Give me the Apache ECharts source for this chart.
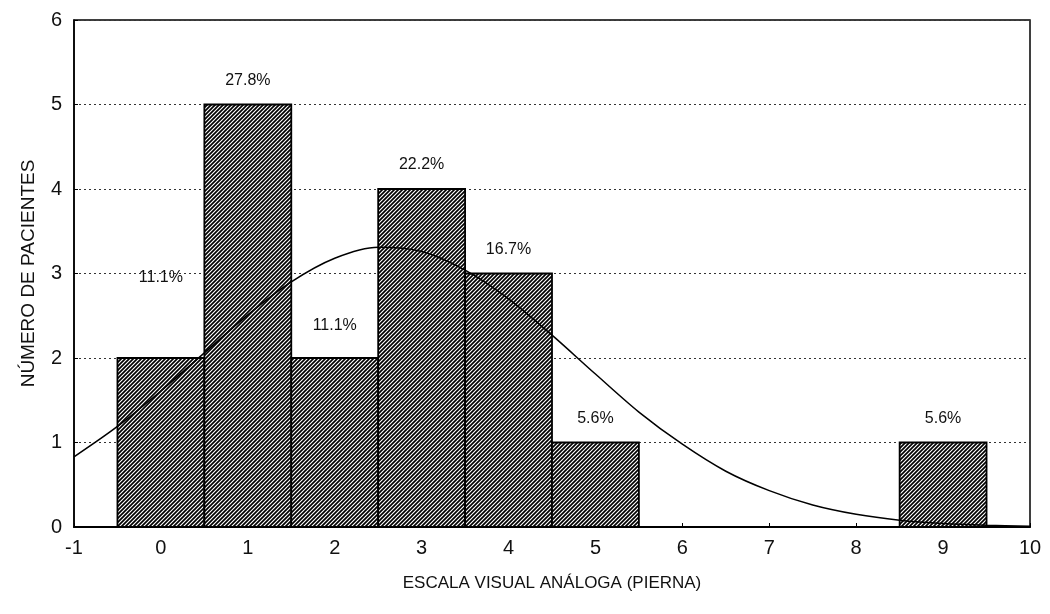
<!DOCTYPE html>
<html>
<head>
<meta charset="utf-8">
<script src="https://cdn.jsdelivr.net/npm/echarts@6/dist/echarts.min.js"></script>
<style>
  html, body { margin: 0; padding: 0; background: #fff; }
  #main { width: 1050px; height: 614px; }
</style>
</head>
<body>
<div id="main"></div>
<script>
// 数据
const scores = [0, 1, 2, 3, 4, 5, 6, 7, 8, 9];          // escala visual análoga
const patients = [2, 5, 2, 4, 3, 1, 0, 0, 0, 1];        // número de pacientes
const percents = ['11.1%', '27.8%', '11.1%', '22.2%', '16.7%', '5.6%', '', '', '', '5.6%'];

// curva normal
const curveX = [-1, -0.5, 0, 0.5, 1, 1.5, 2, 2.5, 3, 3.5, 4, 4.5, 5, 5.5, 6, 6.5, 7, 7.5, 8, 8.5, 9, 9.5, 10];
const curveY = [0.83, 1.19, 1.61, 2.06, 2.51, 2.9, 3.18, 3.31, 3.26, 3.04, 2.7, 2.27, 1.81, 1.36, 0.98, 0.66, 0.43, 0.26, 0.15, 0.08, 0.04, 0.02, 0.01];

const font = '"Liberation Sans", Arial, sans-serif';

// rayado diagonal
function hatch() {
  const c = document.createElement('canvas');
  c.width = 4; c.height = 4;
  const g = c.getContext('2d');
  g.fillStyle = '#fff';
  g.fillRect(0, 0, 4, 4);
  g.strokeStyle = '#000';
  g.lineWidth = 1.7;
  g.beginPath();
  g.moveTo(-1, 5); g.lineTo(5, -1);
  g.moveTo(-1, 1); g.lineTo(1, -1);
  g.moveTo(3, 5); g.lineTo(5, 3);
  g.stroke();
  return c;
}
const pattern = { image: hatch(), repeat: 'repeat' };

// desplazamiento de las etiquetas (px sobre la barra)
const labelLift = { 0: 80, 2: 32 };

var chart = echarts.init(document.getElementById('main'));

const option = {
  backgroundColor: '#fff',
  animation: false,
  grid: {
    left: 74, right: 20, top: 20, bottom: 87,
    show: true, borderColor: '#000', borderWidth: 1.5
  },
  xAxis: {
    type: 'value',
    min: -1, max: 10, interval: 1,
    name: 'ESCALA VISUAL ANÁLOGA (PIERNA)',
    nameLocation: 'middle',
    nameGap: 48,
    nameTextStyle: { fontFamily: font, fontSize: 17, color: '#111' },
    axisLine: { onZero: false, lineStyle: { color: '#000', width: 2 } },
    axisTick: { inside: true, length: 4, lineStyle: { color: '#000' } },
    axisLabel: { fontFamily: font, fontSize: 20, color: '#111', margin: 11 },
    splitLine: { show: false }
  },
  yAxis: {
    type: 'value',
    min: 0, max: 6, interval: 1,
    name: 'NÚMERO DE PACIENTES',
    nameLocation: 'middle',
    nameGap: 36,
    nameTextStyle: { fontFamily: font, fontSize: 19, color: '#111' },
    axisLine: { onZero: false, lineStyle: { color: '#000', width: 1.5 } },
    axisTick: { inside: true, length: 4, lineStyle: { color: '#000' } },
    axisLabel: { fontFamily: font, fontSize: 20, color: '#111', margin: 12 },
    splitLine: { show: true, lineStyle: { color: '#333', type: [2, 3], width: 1 } }
  },
  series: [
    {
      type: 'custom',
      data: scores.map((s, i) => [s, patients[i]]),
      z: 2,
      renderItem: function (params, api) {
        const x = api.value(0);
        const h = api.value(1);
        const i = params.dataIndex;
        const children = [];
        if (h > 0) {
          const p0 = api.coord([x - 0.5, h]);
          const p1 = api.coord([x + 0.5, 0]);
          children.push({
            type: 'rect',
            shape: { x: p0[0], y: p0[1], width: p1[0] - p0[0], height: p1[1] - p0[1] },
            style: { fill: pattern, stroke: '#000', lineWidth: 1.8 }
          });
          const lift = labelLift[i] || 24;
          const t = api.coord([x, h]);
          children.push({
            type: 'text',
            style: {
              x: t[0], y: t[1] - lift,
              text: percents[i],
              align: 'center', verticalAlign: 'middle',
              font: '16px ' + font,
              fill: '#111'
            }
          });
        }
        return { type: 'group', children: children };
      }
    },
    {
      type: 'line',
      data: curveX.map((x, i) => [x, curveY[i]]),
      smooth: 0.3,
      symbol: 'none',
      z: 5,
      lineStyle: { color: '#000', width: 1.5 }
    }
  ]
};

chart.setOption(option);
</script>
</body>
</html>
